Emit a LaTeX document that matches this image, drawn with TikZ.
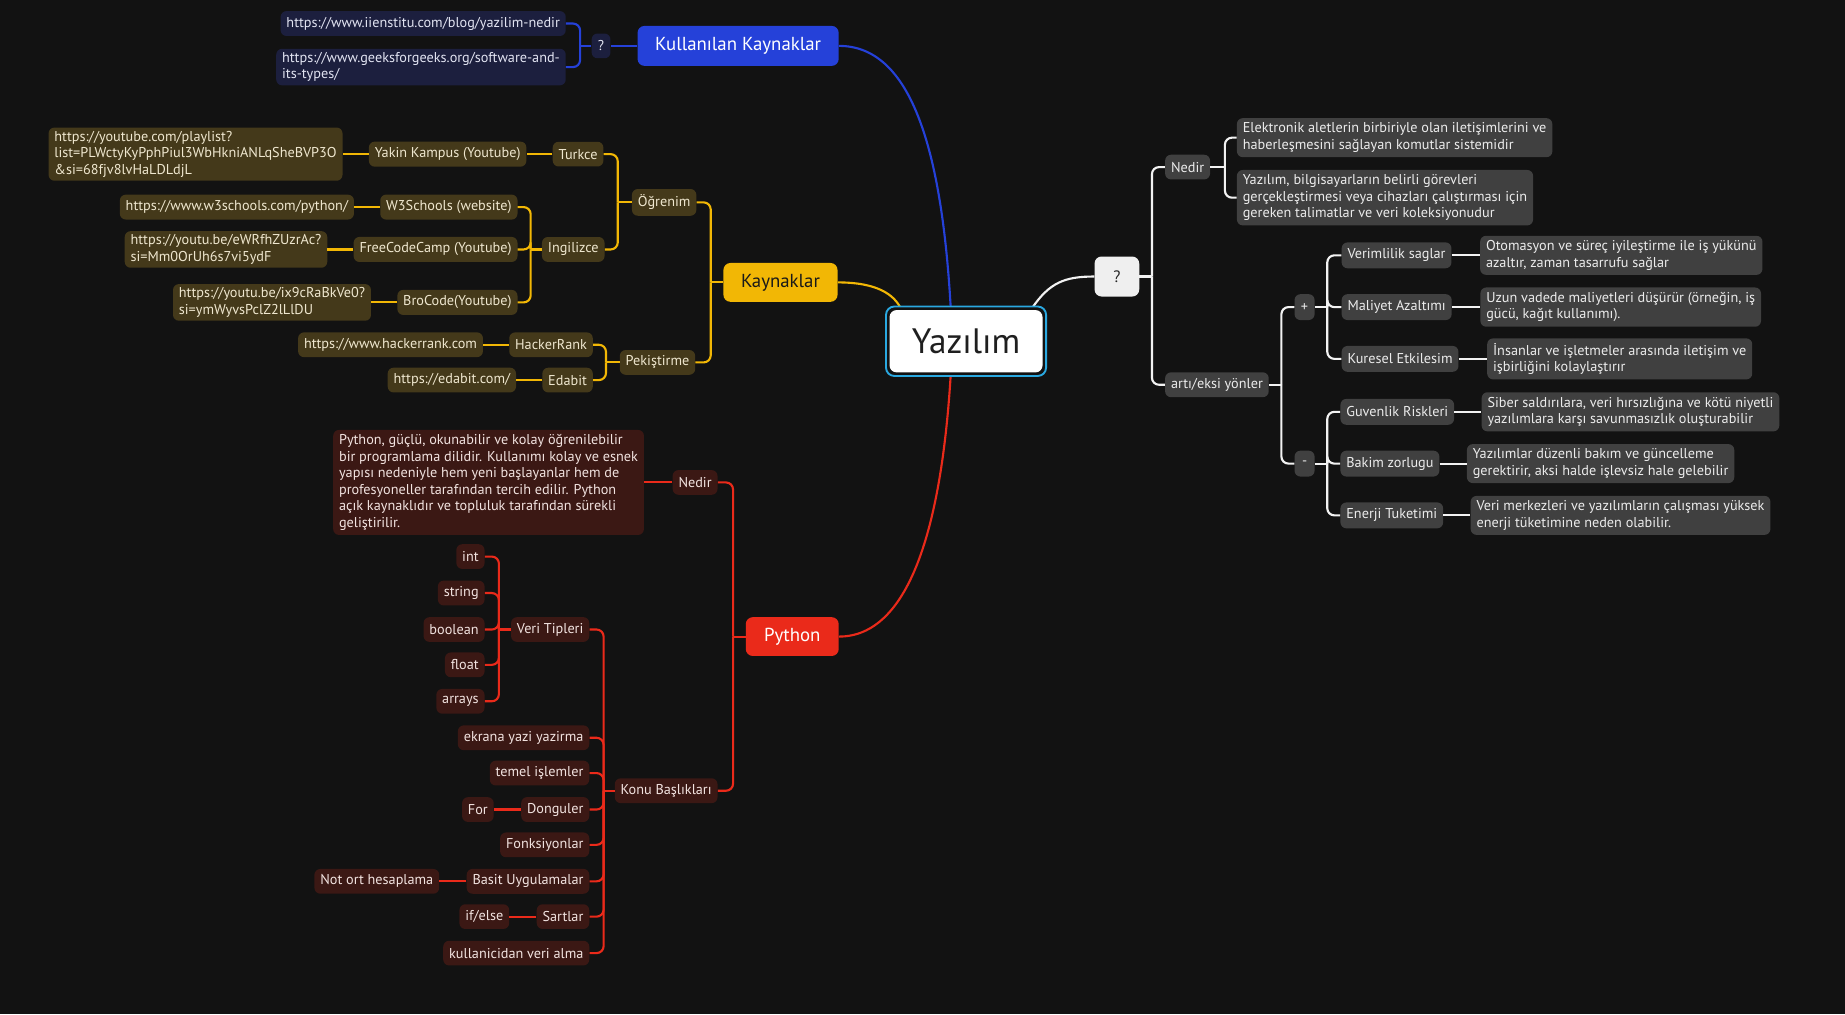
\documentclass[tikz,border=0pt]{standalone}
\usepackage{fontspec}
\setmainfont{PT Sans}
\usetikzlibrary{positioning}
\definecolor{bgc}{HTML}{121212}
\definecolor{bmainc}{HTML}{2541D9}
\definecolor{bdarkc}{HTML}{1C1F3E}
\definecolor{btextc}{HTML}{E2E4F2}
\definecolor{ymainc}{HTML}{F2B705}
\definecolor{ydarkc}{HTML}{44391A}
\definecolor{ytextc}{HTML}{EFE7CF}
\definecolor{rmainc}{HTML}{EA2A1A}
\definecolor{rdarkc}{HTML}{3B1814}
\definecolor{rtextc}{HTML}{F2E3E0}
\definecolor{gmainc}{HTML}{EFEFEF}
\definecolor{gdarkc}{HTML}{404040}
\definecolor{gtextc}{HTML}{ECECEC}
\definecolor{glinec}{HTML}{F2F2F2}
\definecolor{framec}{HTML}{2AA8E0}
\newcommand{\fsm}{\fontsize{12.1}{14}\selectfont}
\newcommand{\fbig}{\fontsize{16}{18}\selectfont}
\tikzset{
  basenode/.style={rounded corners=5pt, inner xsep=5pt, inner ysep=5pt, minimum height=21pt, font=\fsm, align=left},
  nb/.style={basenode, fill=bdarkc, text=btextc},
  ny/.style={basenode, fill=ydarkc, text=ytextc},
  nr/.style={basenode, fill=rdarkc, text=rtextc},
  ngr/.style={basenode, fill=gdarkc, text=gtextc},
  mainnode/.style={rounded corners=6pt, minimum height=34pt, inner xsep=10pt, font=\fbig},
  lineb/.style={draw=bmainc, line width=1.8pt, rounded corners=6pt},
  liney/.style={draw=ymainc, line width=1.8pt, rounded corners=6pt},
  liner/.style={draw=rmainc, line width=1.8pt, rounded corners=6pt},
  lineg/.style={draw=glinec, line width=1.8pt, rounded corners=6pt},
}
\begin{document}
\begin{tikzpicture}[x=1pt,y=-1pt]
\fill[bgc] (0,0) rectangle (1568,862);
\useasboundingbox (0,0) rectangle (1568,862);

% ---------- main branches ----------
\node[mainnode, anchor=east, fill=bmainc, text=white, minimum width=171pt] (kk) at (713,39) {Kullanılan Kaynaklar};
\node[mainnode, anchor=east, fill=ymainc, text=black!90, minimum width=97pt, minimum height=33pt] (ky) at (712,240) {Kaynaklar};
\node[mainnode, anchor=east, fill=rmainc, text=white, minimum width=79pt, minimum height=33pt] (py) at (713,541) {Python};
\node[mainnode, anchor=west, fill=gmainc, text=black!85, minimum width=38pt, inner xsep=4pt, font=\fontsize{14}{16}\selectfont] (q) at (930,235) {?};

\coordinate (rbt) at (808,262);
\coordinate (rbb) at (808,318);
\coordinate (rtl) at (766,263);
\coordinate (rtr) at (877,262);
\draw[lineb] (kk.east) .. controls (772,39) and (800,120) .. (rbt);
\draw[liney] (ky.east) .. controls (745,240) and (760,250) .. (rtl);
\draw[liner] (py.east) .. controls (772,541) and (800,450) .. (rbb);
\draw[lineg] (rtr) .. controls (892,240) and (905,235) .. (q.west);

% central node
\node[rounded corners=7pt, draw=framec, line width=1.6pt, fill=bgc, minimum width=136pt, minimum height=59pt] (rootframe) at (821,290) {};
\node[rounded corners=6pt, fill=white, minimum width=130pt, minimum height=53pt, text=black!88, font=\fontsize{30}{32}\selectfont] (root) at (821,290) {Yazılım};

% ---------- Kullanılan Kaynaklar ----------
\node[nb, anchor=east, minimum width=16pt, inner xsep=3pt] (kq) at (519,39) {?};
\node[nb, anchor=east] (u1) at (481,20) {https://www.iienstitu.com/blog/yazilim-nedir};
\node[nb, anchor=east, inner ysep=3pt] (u2) at (481,57) {https://www.geeksforgeeks.org/software-and-\\its-types/};
\coordinate (kt) at (493,39);
\draw[lineb] (kk.west) -- (kq.east);
\draw[lineb] (kq.west) -- (kt);
\draw[lineb] (kt) |- (u1.east);
\draw[lineb] (kt) |- (u2.east);

% ---------- Kaynaklar ----------
\node[ny, anchor=east] (ogr) at (592,172) {Öğrenim};
\node[ny, anchor=east] (pek) at (591,308) {Pekiştirme};
\coordinate (yt) at (604,240);
\draw[liney] (ky.west) -- (yt);
\draw[liney] (yt) |- (ogr.east);
\draw[liney] (yt) |- (pek.east);

\node[ny, anchor=east] (tr) at (513,131) {Turkce};
\node[ny, anchor=east] (ing) at (514,212) {Ingilizce};
\coordinate (ot) at (525,172);
\draw[liney] (ogr.west) -- (ot);
\draw[liney] (ot) |- (tr.east);
\draw[liney] (ot) |- (ing.east);

\node[ny, left=22pt of tr] (yk) {Yakin Kampus (Youtube)};
\node[ny, left=22pt of yk, inner ysep=3pt] (yku) {https://youtube.com/playlist?\\list=PLWctyKyPphPiul3WbHkniANLqSheBVP3O\\\&si=68fjv8lvHaLDLdjL};
\draw[liney] (tr.west) -- (yk.east);
\draw[liney] (yk.west) -- (yku.east);

\node[ny, anchor=east] (w3) at (440,176) {W3Schools (website)};
\node[ny, anchor=east] (fcc) at (440,212) {FreeCodeCamp (Youtube)};
\node[ny, anchor=east] (bro) at (440,257) {BroCode(Youtube)};
\coordinate (it) at (451,212);
\draw[liney] (ing.west) -- (it);
\draw[liney] (it) |- (w3.east);
\draw[liney] (it) |- (fcc.east);
\draw[liney] (it) |- (bro.east);
\node[ny, left=22pt of w3] (w3u) {https://www.w3schools.com/python/};
\node[ny, left=22pt of fcc, inner ysep=3pt] (fccu) {https://youtu.be/eWRfhZUzrAc?\\si=Mm0OrUh6s7vi5ydF};
\node[ny, left=22pt of bro, inner ysep=3pt] (brou) {https://youtu.be/ix9cRaBkVe0?\\si=ymWyvsPclZ2lLlDU};
\draw[liney] (w3.west) -- (w3u.east);
\draw[liney] (fcc.west) -- (fccu.east);
\draw[liney] (bro.west) -- (brou.east);

\node[ny, anchor=east] (hr) at (504,293) {HackerRank};
\node[ny, anchor=east] (ed) at (504,323) {Edabit};
\coordinate (pt) at (515,308);
\draw[liney] (pek.west) -- (pt);
\draw[liney] (pt) |- (hr.east);
\draw[liney] (pt) |- (ed.east);
\node[ny, left=22pt of hr] (hru) {https://www.hackerrank.com};
\node[ny, left=22pt of ed] (edu) {https://edabit.com/};
\draw[liney] (hr.west) -- (hru.east);
\draw[liney] (ed.west) -- (edu.east);

% ---------- Python ----------
\node[nr, anchor=east] (pn) at (610,410) {Nedir};
\node[nr, anchor=east] (konu) at (610,672) {Konu Başlıkları};
\coordinate (pyt) at (623,541);
\draw[liner] (py.west) -- (pyt);
\draw[liner] (pyt) |- (pn.east);
\draw[liner] (pyt) |- (konu.east);
\node[nr, left=24pt of pn, inner ysep=4pt] (pnt) {Python, güçlü, okunabilir ve kolay öğrenilebilir\\bir programlama dilidir. Kullanımı kolay ve esnek\\yapısı nedeniyle hem yeni başlayanlar hem de\\profesyoneller tarafından tercih edilir. Python\\açık kaynaklıdır ve topluluk tarafından sürekli\\geliştirilir.};
\draw[liner] (pn.west) -- (pnt.east);

\coordinate (kot) at (513,672);
\draw[liner] (konu.west) -- (kot);
\node[nr, anchor=east] (vt) at (501,535) {Veri Tipleri};
\node[nr, anchor=east] (eky) at (501,627) {ekrana yazi yazirma};
\node[nr, anchor=east] (tem) at (501,657) {temel işlemler};
\node[nr, anchor=east] (don) at (501,688) {Donguler};
\node[nr, anchor=east] (fon) at (501,718) {Fonksiyonlar};
\node[nr, anchor=east] (bas) at (501,749) {Basit Uygulamalar};
\node[nr, anchor=east] (sar) at (501,779) {Sartlar};
\node[nr, anchor=east] (kul) at (501,810) {kullanicidan veri alma};
\foreach \n in {vt,eky,tem,don,fon,bas,sar,kul}{\draw[liner] (kot) |- (\n.east);}
\node[nr, left=23pt of don] (for) {For};
\node[nr, left=23pt of bas] (not) {Not ort hesaplama};
\node[nr, left=23pt of sar] (ife) {if/else};
\draw[liner] (don.west) -- (for.east);
\draw[liner] (bas.west) -- (not.east);
\draw[liner] (sar.west) -- (ife.east);

\coordinate (vtt) at (424,535);
\draw[liner] (vt.west) -- (vtt);
\node[nr, anchor=east] (tint) at (412,473) {int};
\node[nr, anchor=east] (tstr) at (412,504) {string};
\node[nr, anchor=east] (tbool) at (412,535) {boolean};
\node[nr, anchor=east] (tflo) at (412,565) {float};
\node[nr, anchor=east] (tarr) at (412,596) {arrays};
\foreach \n in {tint,tstr,tbool,tflo,tarr}{\draw[liner] (vtt) |- (\n.east);}

% ---------- ? (right) ----------
\coordinate (qt) at (979,235);
\draw[lineg] (q.east) -- (qt);
\node[ngr, anchor=west] (gn) at (990,142) {Nedir};
\node[ngr, anchor=west] (ae) at (990,327) {artı/eksi yönler};
\draw[lineg] (qt) |- (gn.west);
\draw[lineg] (qt) |- (ae.west);

\coordinate (gnt) at (1041,142);
\draw[lineg] (gn.east) -- (gnt);
\node[ngr, anchor=west, inner ysep=4pt] (gn1) at (1051,117) {Elektronik aletlerin birbiriyle olan iletişimlerini ve\\haberleşmesini sağlayan komutlar sistemidir};
\node[ngr, anchor=west, inner ysep=4pt] (gn2) at (1051,168) {Yazılım, bilgisayarların belirli görevleri\\gerçekleştirmesi veya cihazları çalıştırması için\\gereken talimatlar ve veri koleksiyonudur};
\draw[lineg] (gnt) |- (gn1.west);
\draw[lineg] (gnt) |- (gn2.west);

\coordinate (aet) at (1089,327);
\draw[lineg] (ae.east) -- (aet);
\node[ngr, anchor=west, minimum width=17pt, inner xsep=3pt, minimum height=22pt] (plus) at (1100,261) {+};
\node[ngr, anchor=west, minimum width=17pt, inner xsep=3pt, minimum height=22pt] (minus) at (1100,394) {-};
\draw[lineg] (aet) |- (plus.west);
\draw[lineg] (aet) |- (minus.west);

\coordinate (plt) at (1128,261);
\draw[lineg] (plus.east) -- (plt);
\node[ngr, anchor=west, minimum height=22pt] (ver) at (1140,217) {Verimlilik saglar};
\node[ngr, anchor=west, minimum height=22pt] (mal) at (1140,261) {Maliyet Azaltımı};
\node[ngr, anchor=west, minimum height=22pt] (kur) at (1140,305) {Kuresel Etkilesim};
\draw[lineg] (plt) |- (ver.west);
\draw[lineg] (plt) |- (mal.west);
\draw[lineg] (plt) |- (kur.west);
\node[ngr, right=24pt of ver, inner ysep=4pt] (verd) {Otomasyon ve süreç iyileştirme ile iş yükünü\\azaltır, zaman tasarrufu sağlar};
\node[ngr, right=24pt of mal, inner ysep=4pt] (mald) {Uzun vadede maliyetleri düşürür (örneğin, iş\\gücü, kağıt kullanımı).};
\node[ngr, right=24pt of kur, inner ysep=4pt] (kurd) {İnsanlar ve işletmeler arasında iletişim ve\\işbirliğini kolaylaştırır};
\draw[lineg] (ver.east) -- (verd.west);
\draw[lineg] (mal.east) -- (mald.west);
\draw[lineg] (kur.east) -- (kurd.west);

\coordinate (mit) at (1128,394);
\draw[lineg] (minus.east) -- (mit);
\node[ngr, anchor=west, minimum height=22pt] (guv) at (1139,350) {Guvenlik Riskleri};
\node[ngr, anchor=west, minimum height=22pt] (bak) at (1139,394) {Bakim zorlugu};
\node[ngr, anchor=west, minimum height=22pt] (ene) at (1139,438) {Enerji Tuketimi};
\draw[lineg] (mit) |- (guv.west);
\draw[lineg] (mit) |- (bak.west);
\draw[lineg] (mit) |- (ene.west);
\node[ngr, right=23pt of guv, inner ysep=4pt] (guvd) {Siber saldırılara, veri hırsızlığına ve kötü niyetli\\yazılımlara karşı savunmasızlık oluşturabilir};
\node[ngr, right=23pt of bak, inner ysep=4pt] (bakd) {Yazılımlar düzenli bakım ve güncelleme\\gerektirir, aksi halde işlevsiz hale gelebilir};
\node[ngr, right=23pt of ene, inner ysep=4pt] (ened) {Veri merkezleri ve yazılımların çalışması yüksek\\enerji tüketimine neden olabilir.};
\draw[lineg] (guv.east) -- (guvd.west);
\draw[lineg] (bak.east) -- (bakd.west);
\draw[lineg] (ene.east) -- (ened.west);
\end{tikzpicture}
\end{document}
